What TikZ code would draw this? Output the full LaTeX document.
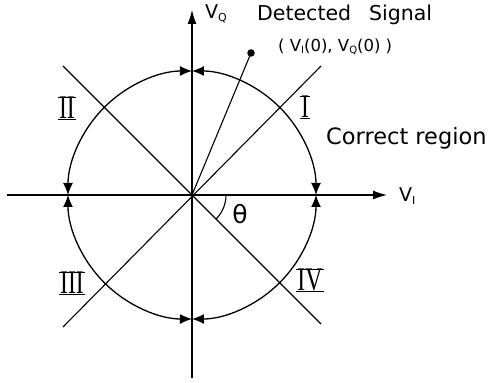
\documentclass[tikz,border=0pt]{standalone}
\usepackage{fontspec}
\setmainfont{DejaVu Sans}
\newfontfamily\romanfont{Liberation Serif}[FakeStretch=0.72]
\usetikzlibrary{arrows.meta}
\begin{document}
\begin{tikzpicture}[x=1pt,y=1pt,
  axisline/.style={line width=1.2pt},
  thinline/.style={line width=1.1pt},
  arcarrow/.style={line width=1.3pt,-{Latex[length=12pt,width=10pt]}},
  lbl/.style={inner sep=0pt,anchor=west},
  roman/.style={inner xsep=1pt,inner ysep=0pt,text height=21.5pt,text depth=0pt,
    font=\romanfont\fontsize{33}{33}\selectfont,
    append after command={[line width=1.1pt] (\tikzlastnode.north west) edge[-] (\tikzlastnode.north east)
      (\tikzlastnode.south west) edge[-] (\tikzlastnode.south east)}}]
\useasboundingbox (-192,-188) rectangle (301,195);
\coordinate (O) at (0,0);
\coordinate (xl) at (-185,0);
\coordinate (xr) at (195,0);
\coordinate (yb) at (0,-183);
\coordinate (yt) at (0,185);
\coordinate (ul) at (-129,129);
\coordinate (lr) at (129,-129);
\coordinate (ur) at (129,129);
\coordinate (ll) at (-129,-132);
% axes
\draw[axisline,-{Latex[length=14pt,width=9pt]}] (xl) -- (xr);
\draw[axisline,-{Latex[length=14pt,width=9pt]}] (yb) -- (yt);
% diagonals
\draw[thinline] (ul) -- (lr);
\draw[thinline] (ll) -- (ur);
% detected signal
\node[circle,fill=black,inner sep=0pt,minimum size=7.5pt] (dot) at (59,142) {};
\draw[thinline] (O) -- (dot.center);
% circle arcs with converging arrows
\foreach \a/\b in {45/0,45/90,135/90,135/180,225/180,225/270,315/270,315/360}{
  \draw[arcarrow] (\a:124) arc[start angle=\a,end angle=\b,radius=124];
}
% angle
\draw[thinline] (34,0) arc[start angle=0,end angle=-45,radius=34];
\node[inner sep=0pt,font=\fontsize{25}{25}\selectfont] (theta) at (48,-19) {θ};
% axis labels
\node[lbl,font=\fontsize{19}{19}\selectfont] (vq) at (13,181) {V\raisebox{-3pt}{\fontsize{11}{11}\selectfont Q}};
\node[lbl,font=\fontsize{19}{19}\selectfont] (vi) at (207,-1) {V\raisebox{-3pt}{\fontsize{11}{11}\selectfont I}};
% region labels
\node[roman] (r1) at (113,88) {I};
\node[roman] (r2) at (-125,87) {II};
\node[roman] (r3) at (-120,-88) {III};
\node[roman] (r4) at (118,-85) {IV};
% texts
\node[lbl,font=\fontsize{20.5}{20.5}\selectfont] (ds) at (65,180) {Detected\hspace{18pt}Signal};
\node[lbl,font=\fontsize{16.5}{16.5}\selectfont] (coord) at (86,148) {( V\raisebox{-2.5pt}{\fontsize{10}{10}\selectfont I}(0), V\raisebox{-2.5pt}{\fontsize{10}{10}\selectfont Q}(0) )};
\node[lbl,font=\fontsize{22.5}{22.5}\selectfont] (cr) at (134,57) {Correct region};
\end{tikzpicture}
\end{document}
